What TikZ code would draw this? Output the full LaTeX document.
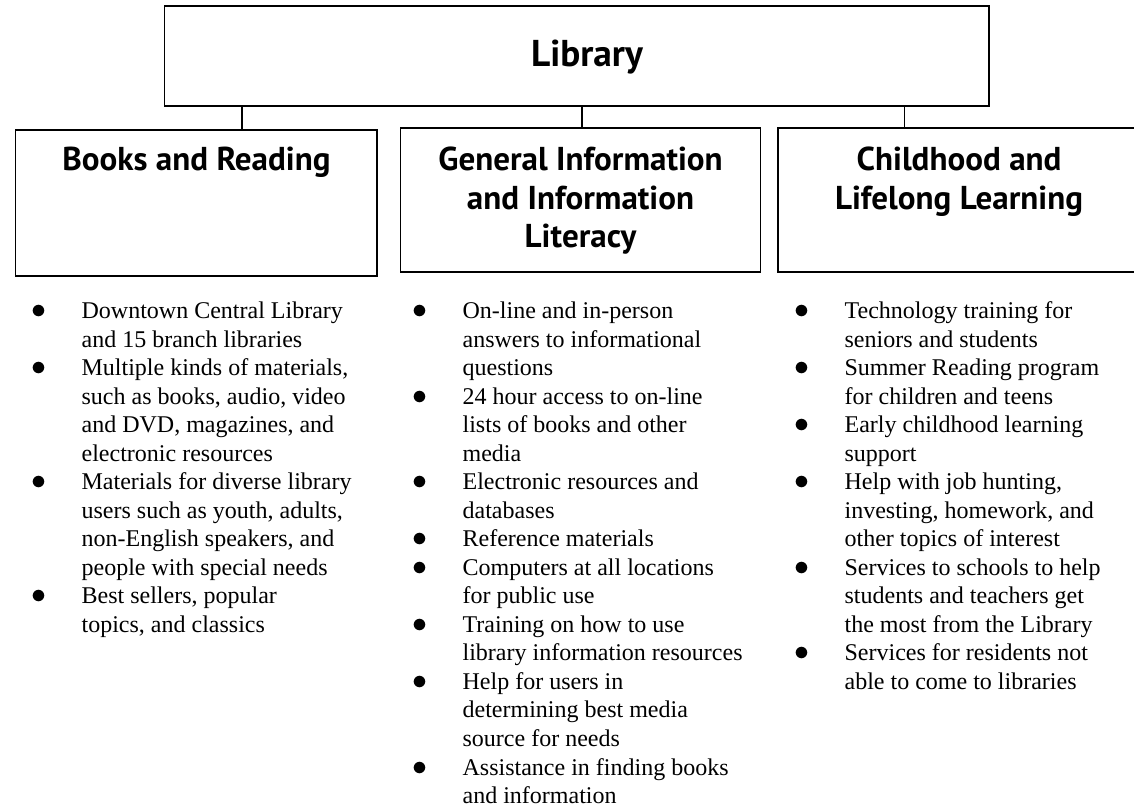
\documentclass[tikz,border=0pt]{standalone}
\usepackage{fontspec}
\setmainfont{Liberation Serif}
\newfontfamily\headfont{PT Sans}
\usepackage{tikz}
\usetikzlibrary{positioning,calc}
\newcommand{\itembullet}{\scalebox{1.3}{$\bullet$}}

\begin{document}
\begin{tikzpicture}[x=1pt, y=-1pt,
    box/.style={draw, line width=1.2pt, inner sep=0pt},
    head/.style={inner sep=0pt, font=\headfont\bfseries\fontsize{24.8}{28.7}\selectfont},
    items/.style={inner sep=0pt, font=\fontsize{18}{21.4}\selectfont}]
                    \useasboundingbox (0,0) rectangle (850.5,609);
                    \clip (0,0) rectangle (850.5,609);
                    \node[box, minimum width=618.3pt, minimum height=75pt] (library) at (432.6,42) {};
                    \node[head, anchor=base, font=\headfont\bfseries\fontsize{28}{34}\selectfont] (librarytitle) at (440.25,50) {Library};
                    \node[box, minimum width=271.2pt, minimum height=109.5pt] (books) at (147.3,152.25) {};
                    \node[box, minimum width=270.1pt, minimum height=108pt] (info) at (435.4,150) {};
                    \node[box, minimum width=271.35pt, minimum height=108pt] (child) at (719.3,150) {};
                    \node[head, anchor=base] (bookstitle) at (books.center |- 0,128.1) {Books and Reading};
                    \node[head, anchor=base] (infotitle) at (info.center |- 0,128.1)
                        {\begin{tabular}[t]{@{}c@{}}General Information\\and Information\\Literacy\end{tabular}};
                    \node[head, anchor=base] (childtitle) at (child.center |- 0,128.1)
                        {\begin{tabular}[t]{@{}c@{}}Childhood and\\Lifelong Learning\end{tabular}};
                    \coordinate (lb) at (181.7,0);
                    \coordinate (li) at (436.65,0);
                    \coordinate (lc) at (678.3,0);
                    \draw[line width=1.2pt] (library.south -| lb) -- (books.north -| lb);
                    \draw[line width=1.2pt] (library.south -| li) -- (info.north -| li);
                    \draw[line width=1.2pt] (library.south -| lc) -- (child.north -| lc);
                    \node[items, anchor=base west] (bookslist) at (23.4,238.9)
                        {\begin{tabular}[t]{@{}l@{\hspace{26.4pt}}l@{}}
                        \itembullet & Downtown Central Library\\
                         & and 15 branch libraries\\
                        \itembullet & Multiple kinds of materials,\\
                         & such as books, audio, video\\
                         & and DVD, magazines, and\\
                         & electronic resources\\
                        \itembullet & Materials for diverse library\\
                         & users such as youth, adults,\\
                         & non-English speakers, and\\
                         & people with special needs\\
                        \itembullet & Best sellers, popular\\
                         & topics, and classics
                        \end{tabular}};
                    \node[items, anchor=base west] (infolist) at (309.15,238.9)
                        {\begin{tabular}[t]{@{}l@{\hspace{26.4pt}}l@{}}
                        \itembullet & On-line and in-person\\
                         & answers to informational\\
                         & questions\\
                        \itembullet & 24 hour access to on-line\\
                         & lists of books and other\\
                         & media\\
                        \itembullet & Electronic resources and\\
                         & databases\\
                        \itembullet & Reference materials\\
                        \itembullet & Computers at all locations\\
                         & for public use\\
                        \itembullet & Training on how to use\\
                         & library information resources\\
                        \itembullet & Help for users in\\
                         & determining best media\\
                         & source for needs\\
                        \itembullet & Assistance in finding books\\
                         & and information
                        \end{tabular}};
                    \node[items, anchor=base west] (childlist) at (595.65,238.9)
                        {\begin{tabular}[t]{@{}l@{\hspace{26.4pt}}l@{}}
                        \itembullet & Technology training for\\
                         & seniors and students\\
                        \itembullet & Summer Reading program\\
                         & for children and teens\\
                        \itembullet & Early childhood learning\\
                         & support\\
                        \itembullet & Help with job hunting,\\
                         & investing, homework, and\\
                         & other topics of interest\\
                        \itembullet & Services to schools to help\\
                         & students and teachers get\\
                         & the most from the Library\\
                        \itembullet & Services for residents not\\
                         & able to come to libraries
                        \end{tabular}};
                \end{tikzpicture}
\end{document}
